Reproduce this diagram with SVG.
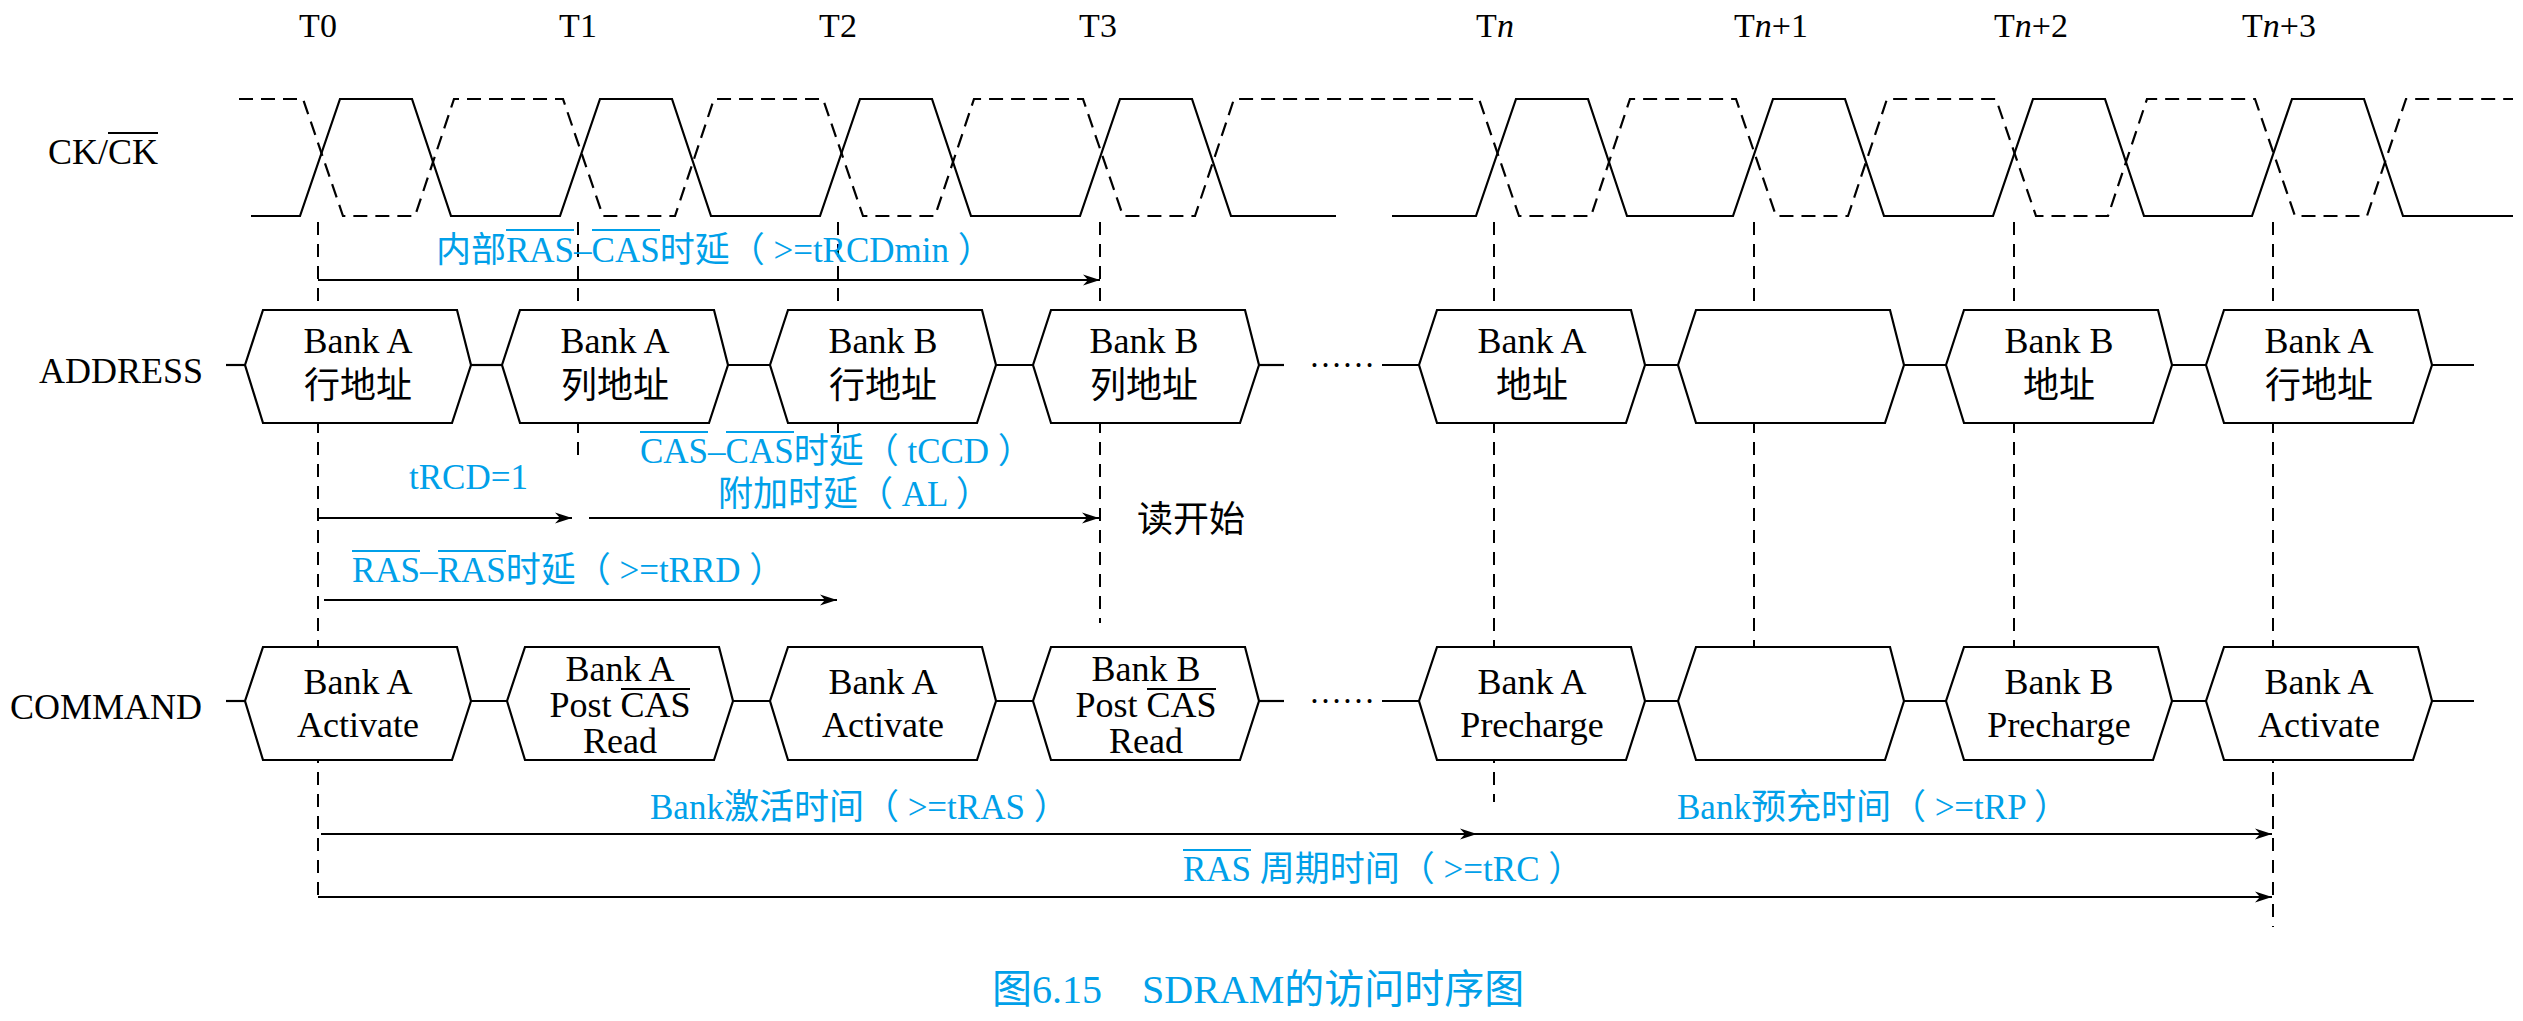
<svg xmlns="http://www.w3.org/2000/svg" width="2523" height="1021" viewBox="0 0 2523 1021">
<style>
.w{fill:none;stroke:#000;stroke-width:2.2}
.dsh{stroke-dasharray:14 8}
.v{fill:none;stroke:#000;stroke-width:2;stroke-dasharray:13 9}
.hex{fill:#fff;stroke:#000;stroke-width:2.2;stroke-linejoin:miter}
.ln{stroke:#000;stroke-width:2.2}
.arr{stroke:#000;stroke-width:2.2;marker-end:url(#ah)}
.ok{stroke:#000;stroke-width:2}
.ob{stroke:#00A0E9;stroke-width:2}
text{font-family:"Liberation Serif","Noto Sans CJK SC",serif;font-size:36px;fill:#000}
.c{text-anchor:middle}
.b{fill:#00A0E9;font-size:35px}
.tl{font-size:34px}
.i{font-style:italic}
</style>
<defs>
<marker id="ah" markerWidth="18" markerHeight="12" viewBox="-18 -6 18 12" refX="0" refY="0" orient="auto" markerUnits="userSpaceOnUse">
<path d="M0,0 L-17,-5.5 L-12,0 L-17,5.5 Z" fill="#000"/>
</marker>
</defs>
<rect width="2523" height="1021" fill="#fff"/>

<g id="time-labels">
<text class="tl c" x="318" y="37">T0</text>
<text class="tl c" x="578" y="37">T1</text>
<text class="tl c" x="838" y="37">T2</text>
<text class="tl c" x="1098" y="37">T3</text>
<text class="tl c" x="1495" y="37">T<tspan class="i">n</tspan></text>
<text class="tl" x="1734" y="37">T<tspan class="i">n</tspan>+1</text>
<text class="tl" x="1994" y="37">T<tspan class="i">n</tspan>+2</text>
<text class="tl" x="2242" y="37">T<tspan class="i">n</tspan>+3</text>
</g>

<g id="row-labels">
<text x="48" y="164">CK/CK</text>
<line class="ok" x1="108" y1="133" x2="158" y2="133"/>
<text x="39" y="383">ADDRESS</text>
<text x="10" y="719">COMMAND</text>
</g>

<g id="clock">
<path class="w" d="M251,216 L300,216 L340,99 L412,99 L451,216 L560,216 L600,99 L672,99 L711,216 L820,216 L860,99 L932,99 L971,216 L1080,216 L1120,99 L1192,99 L1231,216 L1336,216 M1392,216 L1476,216 L1516,99 L1588,99 L1627,216 L1733,216 L1773,99 L1845,99 L1884,216 L1993,216 L2033,99 L2105,99 L2144,216 L2252,216 L2292,99 L2364,99 L2403,216 L2513,216"/>
<path class="w dsh" d="M239,99 L303,99 L343,216 L415,216 L454,99 L563,99 L603,216 L675,216 L714,99 L823,99 L863,216 L935,216 L974,99 L1083,99 L1123,216 L1195,216 L1234,99 L1479,99 L1519,216 L1591,216 L1630,99 L1736,99 L1776,216 L1848,216 L1887,99 L1996,99 L2036,216 L2108,216 L2147,99 L2255,99 L2295,216 L2367,216 L2406,99 L2513,99"/>
</g>

<g id="connectors">
<line class="v" x1="318" y1="222" x2="318" y2="900"/>
<line class="v" x1="578" y1="222" x2="578" y2="460"/>
<line class="v" x1="838" y1="222" x2="838" y2="433"/>
<line class="v" x1="1100" y1="222" x2="1100" y2="623"/>
<line class="v" x1="1494" y1="222" x2="1494" y2="802"/>
<line class="v" x1="1754" y1="222" x2="1754" y2="647"/>
<line class="v" x1="2014" y1="222" x2="2014" y2="647"/>
<line class="v" x1="2273" y1="222" x2="2273" y2="927"/>

<line class="ln" x1="226" y1="365" x2="245" y2="365"/>
<line class="ln" x1="471" y1="365" x2="502" y2="365"/>
<line class="ln" x1="728" y1="365" x2="770" y2="365"/>
<line class="ln" x1="996" y1="365" x2="1033" y2="365"/>
<line class="ln" x1="1259" y1="365" x2="1284" y2="365"/>
<line class="ln" x1="1382" y1="365" x2="1419" y2="365"/>
<line class="ln" x1="1645" y1="365" x2="1678" y2="365"/>
<line class="ln" x1="1904" y1="365" x2="1946" y2="365"/>
<line class="ln" x1="2172" y1="365" x2="2206" y2="365"/>
<line class="ln" x1="2432" y1="365" x2="2474" y2="365"/>

<line class="ln" x1="226" y1="701" x2="245" y2="701"/>
<line class="ln" x1="471" y1="701" x2="507" y2="701"/>
<line class="ln" x1="733" y1="701" x2="770" y2="701"/>
<line class="ln" x1="996" y1="701" x2="1033" y2="701"/>
<line class="ln" x1="1259" y1="701" x2="1284" y2="701"/>
<line class="ln" x1="1382" y1="701" x2="1419" y2="701"/>
<line class="ln" x1="1645" y1="701" x2="1678" y2="701"/>
<line class="ln" x1="1904" y1="701" x2="1946" y2="701"/>
<line class="ln" x1="2172" y1="701" x2="2206" y2="701"/>
<line class="ln" x1="2432" y1="701" x2="2474" y2="701"/>

<line class="arr" x1="318" y1="280" x2="1100" y2="280"/>
<line class="arr" x1="318" y1="518" x2="572" y2="518"/>
<line class="arr" x1="589" y1="518" x2="1099" y2="518"/>
<line class="arr" x1="324" y1="600" x2="837" y2="600"/>
<line class="arr" x1="321" y1="834" x2="1477" y2="834"/>
<line class="arr" x1="1115" y1="834" x2="2272" y2="834"/>
<line class="arr" x1="318" y1="897" x2="2272" y2="897"/>
</g>

<g id="ellipsis">
<text x="1309" y="367" style="font-size:33px">……</text>
<text x="1309" y="703" style="font-size:33px">……</text>
</g>

<g id="addr-1"><polygon class="hex" points="245,365 263,310 457,310 471,365 452,423 263,423"/><text class="c" x="358" y="353">Bank A</text><text class="c" x="358" y="398">行地址</text></g>
<g id="addr-2"><polygon class="hex" points="502,365 520,310 714,310 728,365 709,423 520,423"/><text class="c" x="615" y="353">Bank A</text><text class="c" x="615" y="398">列地址</text></g>
<g id="addr-3"><polygon class="hex" points="770,365 788,310 982,310 996,365 977,423 788,423"/><text class="c" x="883" y="353">Bank B</text><text class="c" x="883" y="398">行地址</text></g>
<g id="addr-4"><polygon class="hex" points="1033,365 1051,310 1245,310 1259,365 1240,423 1051,423"/><text class="c" x="1144" y="353">Bank B</text><text class="c" x="1144" y="398">列地址</text></g>
<g id="addr-5"><polygon class="hex" points="1419,365 1437,310 1631,310 1645,365 1626,423 1437,423"/><text class="c" x="1532" y="353">Bank A</text><text class="c" x="1532" y="398">地址</text></g>
<g id="addr-6"><polygon class="hex" points="1678,365 1696,310 1890,310 1904,365 1885,423 1696,423"/></g>
<g id="addr-7"><polygon class="hex" points="1946,365 1964,310 2158,310 2172,365 2153,423 1964,423"/><text class="c" x="2059" y="353">Bank B</text><text class="c" x="2059" y="398">地址</text></g>
<g id="addr-8"><polygon class="hex" points="2206,365 2224,310 2418,310 2432,365 2413,423 2224,423"/><text class="c" x="2319" y="353">Bank A</text><text class="c" x="2319" y="398">行地址</text></g>

<g id="cmd-1"><polygon class="hex" points="245,701 263,647 457,647 471,701 452,760 263,760"/><text class="c" x="358" y="694">Bank A</text><text class="c" x="358" y="737">Activate</text></g>
<g id="cmd-2"><polygon class="hex" points="507,701 525,647 719,647 733,701 714,760 525,760"/><text class="c" x="620" y="681">Bank A</text><text class="c" x="620" y="717">Post CAS</text><line class="ok" x1="621" y1="689" x2="690" y2="689"/><text class="c" x="620" y="753">Read</text></g>
<g id="cmd-3"><polygon class="hex" points="770,701 788,647 982,647 996,701 977,760 788,760"/><text class="c" x="883" y="694">Bank A</text><text class="c" x="883" y="737">Activate</text></g>
<g id="cmd-4"><polygon class="hex" points="1033,701 1051,647 1245,647 1259,701 1240,760 1051,760"/><text class="c" x="1146" y="681">Bank B</text><text class="c" x="1146" y="717">Post CAS</text><line class="ok" x1="1147" y1="689" x2="1216" y2="689"/><text class="c" x="1146" y="753">Read</text></g>
<g id="cmd-5"><polygon class="hex" points="1419,701 1437,647 1631,647 1645,701 1626,760 1437,760"/><text class="c" x="1532" y="694">Bank A</text><text class="c" x="1532" y="737">Precharge</text></g>
<g id="cmd-6"><polygon class="hex" points="1678,701 1696,647 1890,647 1904,701 1885,760 1696,760"/></g>
<g id="cmd-7"><polygon class="hex" points="1946,701 1964,647 2158,647 2172,701 2153,760 1964,760"/><text class="c" x="2059" y="694">Bank B</text><text class="c" x="2059" y="737">Precharge</text></g>
<g id="cmd-8"><polygon class="hex" points="2206,701 2224,647 2418,647 2432,701 2413,760 2224,760"/><text class="c" x="2319" y="694">Bank A</text><text class="c" x="2319" y="737">Activate</text></g>

<g id="timing-labels">
<text class="b" x="436" y="262">内部RAS–CAS时延（ &gt;=tRCDmin ）</text>
<line class="ob" x1="506" y1="230" x2="574" y2="230"/>
<line class="ob" x1="592" y1="230" x2="660" y2="230"/>
<text class="b" x="409" y="489">tRCD=1</text>
<text class="b" x="640" y="463">CAS–CAS时延（ tCCD ）</text>
<line class="ob" x1="640" y1="432" x2="708" y2="432"/>
<line class="ob" x1="726" y1="432" x2="794" y2="432"/>
<text class="b" x="718" y="506">附加时延（ AL ）</text>
<text x="1137" y="532">读开始</text>
<text class="b" x="352" y="582">RAS–RAS时延（ &gt;=tRRD ）</text>
<line class="ob" x1="352" y1="551" x2="420" y2="551"/>
<line class="ob" x1="438" y1="551" x2="506" y2="551"/>
<text class="b" x="650" y="819">Bank激活时间（ &gt;=tRAS ）</text>
<text class="b" x="1677" y="819">Bank预充时间（ &gt;=tRP ）</text>
<text class="b" x="1183" y="881">RAS 周期时间（ &gt;=tRC ）</text>
<line class="ob" x1="1183" y1="850" x2="1251" y2="850"/>
</g>

<g id="caption">
<text class="b" x="992" y="1003" style="font-size:40px">图6.15　SDRAM的访问时序图</text>
</g>
</svg>
